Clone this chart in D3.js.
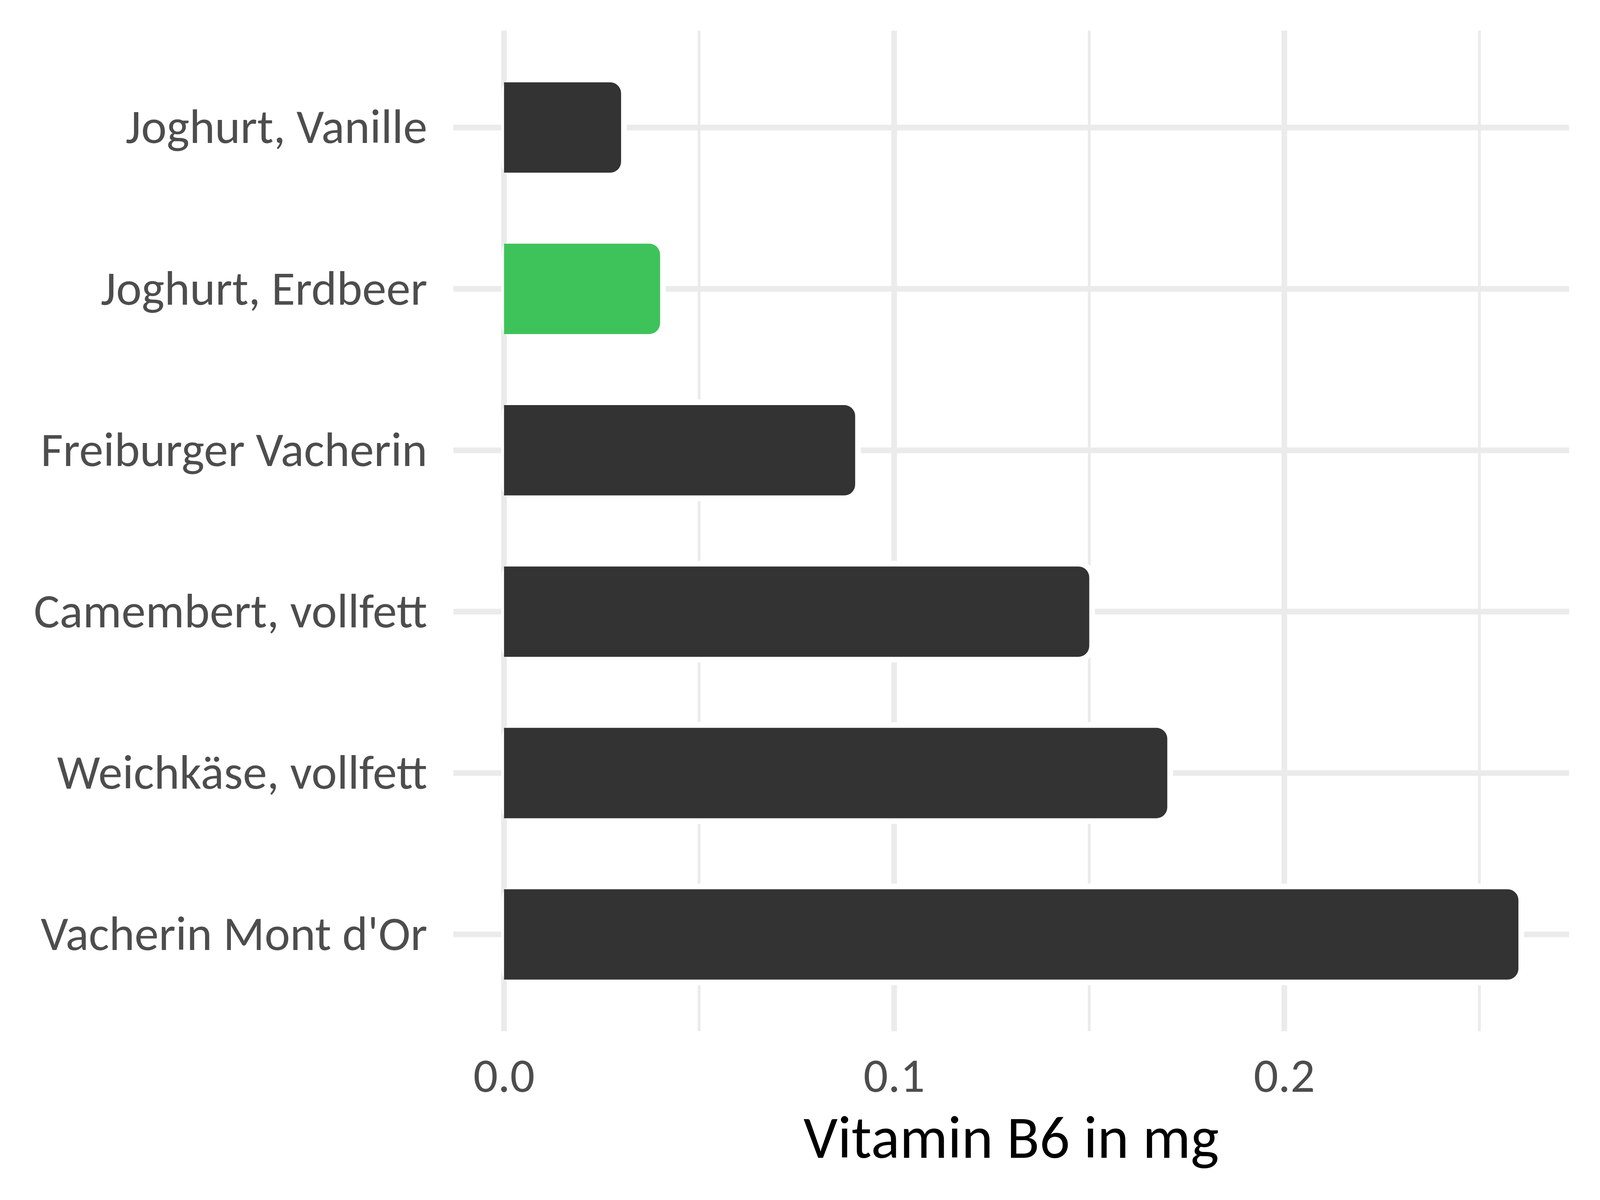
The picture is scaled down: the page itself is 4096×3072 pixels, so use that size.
<!DOCTYPE html>
<html><head><meta charset="utf-8">
<script src="https://cdn.jsdelivr.net/npm/d3@7"></script>
<style>html,body{margin:0;padding:0;background:#fff;}</style>
</head><body>
<svg id="chart" width="4096" height="3072"></svg>
<script>
// ---- data ----
const categories = ["Joghurt, Vanille", "Joghurt, Erdbeer", "Freiburger Vacherin", "Camembert, vollfett", "Weichkäse, vollfett", "Vacherin Mont d'Or"];
const values = [0.03, 0.04, 0.09, 0.15, 0.17, 0.26];
const highlighted = ["Joghurt, Erdbeer"];
const majorTicks = [0, 0.1, 0.2];
const minorTicks = [0.05, 0.15, 0.25];
const tickLabels = ["0.0", "0.1", "0.2"];
const xTitle = "Vitamin B6 in mg";

// ---- layout / style ----
const W = 4096, H = 3072;
const panel = {left: 1160.5, right: 4017, top: 78.5, bottom: 2640};
const barColor = "#333333", hiColor = "#3EC35A", gridColor = "#EBEBEB";

function hasFont(name) {
  const c = document.createElement("canvas").getContext("2d");
  const s = "Freiburger Vacherin mg 0.1";
  c.font = "72px monospace"; const a = c.measureText(s).width;
  c.font = `72px "${name}", monospace`; const b = c.measureText(s).width;
  return Math.abs(a - b) > 0.5;
}
const useCarlito = hasFont("Carlito");
const fontFamily = useCarlito ? "Carlito" : "Lato";
const capRatio = useCarlito ? 1 : 0.644 / 0.7165;
const axisSize = 124 * capRatio, titleSize = 154 * capRatio;

const svg = d3.select("#chart");
svg.append("rect").attr("width", W).attr("height", H).attr("fill", "#fff");

const maxV = d3.max(values);
const pad = maxV * 0.05;
const x = d3.scaleLinear().domain([0 - pad, maxV + pad]).range([panel.left, panel.right]);
const y = d3.scalePoint().domain(categories).range([panel.top, panel.bottom]).padding(0.6);
const barH = y.step() * 0.56;

// grid
const g = svg.append("g");
g.selectAll("line.minor").data(minorTicks).join("line")
  .attr("x1", d => x(d)).attr("x2", d => x(d))
  .attr("y1", panel.top).attr("y2", panel.bottom)
  .attr("stroke", gridColor).attr("stroke-width", 7.25);
g.selectAll("line.major").data(majorTicks).join("line")
  .attr("x1", d => x(d)).attr("x2", d => x(d))
  .attr("y1", panel.top).attr("y2", panel.bottom)
  .attr("stroke", gridColor).attr("stroke-width", 14.5);
g.selectAll("line.hgrid").data(categories).join("line")
  .attr("x1", panel.left).attr("x2", panel.right)
  .attr("y1", d => y(d)).attr("y2", d => y(d))
  .attr("stroke", gridColor).attr("stroke-width", 14.5);

function roundedRight(x0, x1, y0, y1, r) {
  r = Math.min(r, (x1 - x0), (y1 - y0) / 2);
  return `M${x0},${y0}H${x1 - r}A${r},${r} 0 0 1 ${x1},${y0 + r}V${y1 - r}A${r},${r} 0 0 1 ${x1 - r},${y1}H${x0}Z`;
}
function roundedAll(x0, x1, y0, y1, r) {
  return `M${x0 + r},${y0}H${x1 - r}A${r},${r} 0 0 1 ${x1},${y0 + r}V${y1 - r}A${r},${r} 0 0 1 ${x1 - r},${y1}H${x0 + r}A${r},${r} 0 0 1 ${x0},${y1 - r}V${y0 + r}A${r},${r} 0 0 1 ${x0 + r},${y0}Z`;
}
const data = categories.map((c, i) => ({cat: c, v: values[i]}));
const halo = 14.5, rad = 28;

svg.append("g").selectAll("path").data(data).join("path")
  .attr("d", d => roundedAll(x(0) - halo / 2, x(d.v) + halo, y(d.cat) - barH / 2 - halo, y(d.cat) + barH / 2 + halo, rad + halo))
  .attr("fill", "#fff");
svg.append("g").selectAll("path").data(data).join("path")
  .attr("d", d => roundedRight(x(0), x(d.v), y(d.cat) - barH / 2, y(d.cat) + barH / 2, rad))
  .attr("fill", d => highlighted.includes(d.cat) ? hiColor : barColor);

// text
const texts = svg.append("g").attr("font-family", fontFamily);
const yl = texts.append("g").selectAll("text").data(categories).join("text")
  .attr("x", 1094).attr("y", d => y(d) + 40)
  .attr("text-anchor", "end").attr("font-size", axisSize).attr("fill", "#4D4D4D")
  .text(d => d);
const xl = texts.append("g").selectAll("text").data(majorTicks).join("text")
  .attr("x", d => x(d)).attr("y", 2795)
  .attr("text-anchor", "middle").attr("font-size", axisSize).attr("fill", "#4D4D4D")
  .text((d, i) => tickLabels[i]);
const tt = texts.append("text")
  .attr("x", (panel.left + panel.right) / 2).attr("y", 2964)
  .attr("text-anchor", "middle").attr("font-size", titleSize).attr("fill", "#000")
  .text(xTitle);

if (!useCarlito) {
  // condense fallback font to Calibri-like widths
  const refNode = yl.filter(d => d === "Freiburger Vacherin").node();
  const factor = 1000 / refNode.getComputedTextLength();
  [yl, xl, tt].forEach(sel => sel.each(function () {
    const w = this.getComputedTextLength();
    d3.select(this).attr("textLength", w * factor).attr("lengthAdjust", "spacingAndGlyphs");
  }));
}
</script>
</body></html>
